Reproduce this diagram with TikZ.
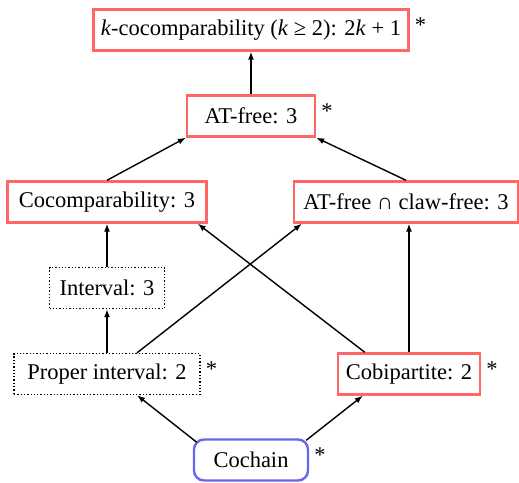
\documentclass[tikz,border=0pt]{standalone}
\usepackage{fontspec}
\setmainfont{Liberation Serif}
\usetikzlibrary{arrows.meta,calc}
\definecolor{boxred}{HTML}{FF6666}
\definecolor{boxblue}{HTML}{6666EE}
\tikzset{
  cls/.style={rectangle, minimum height=41pt, inner sep=2pt, font=\fontsize{22.5}{27}\selectfont},
  redbox/.style={cls, draw=boxred, line width=2.4pt},
  dotbox/.style={cls, draw=black, dotted, line width=1.3pt},
  bluebox/.style={cls, draw=boxblue, line width=2.4pt, rounded corners=10pt},
  starlbl/.style={anchor=north west, inner sep=0pt, font=\fontsize{22.5}{27}\selectfont},
  sub/.style={-{Latex[length=8pt,width=6pt]}, line width=1.4pt},
}
\begin{document}
\begin{tikzpicture}[x=1pt,y=-1pt]
\useasboundingbox (0,0) rectangle (519,482);
\node[redbox, minimum width=315pt] (top) at (251,30) {\textit{k}-cocomparability (\textit{k} ≥ 2): 2\textit{k} + 1};
\node[redbox, minimum width=128pt] (atfree) at (251,116) {AT-free: 3};
\node[redbox, minimum width=199pt] (cocomp) at (107,202) {Cocomparability: 3};
\node[redbox, minimum width=224pt] (atclaw) at (406,202) {AT-free ∩ claw-free: 3};
\node[dotbox, minimum width=115pt] (interval) at (107,288) {Interval: 3};
\node[dotbox, minimum width=186pt] (proper) at (107,374) {Proper interval: 2};
\node[redbox, minimum width=142pt] (cobip) at (409,374) {Cobipartite: 2};
\node[bluebox, minimum width=114pt] (cochain) at (251,460) {Cochain};
\node[starlbl] (topstar) at ($(top.north east)+(5,9)$) {*};
\node[starlbl] (atfreestar) at ($(atfree.north east)+(5,9)$) {*};
\node[starlbl] (properstar) at ($(proper.north east)+(5,9)$) {*};
\node[starlbl] (cobipstar) at ($(cobip.north east)+(5,9)$) {*};
\node[starlbl] (cochainstar) at ($(cochain.north east)+(5,9)$) {*};
\draw[sub] (atfree.north) -- (top.south);
\draw[sub] (cocomp.north) -- (atfree.south west);
\draw[sub] (atclaw.north) -- (atfree.south east);
\draw[sub] (interval.north) -- (cocomp.south);
\draw[sub] (proper.north) -- (interval.south);
\draw[sub] ($(proper.north)+(30,0)$) -- ($(atclaw.south west)+(9,0)$);
\draw[sub] ($(cobip.north west)+(28,0)$) -- ($(cocomp.south east)+(-10,0)$);
\draw[sub] (cobip.north) -- (cobip.north |- atclaw.south);
\draw[sub] ($(cochain.north west)+(4,4)$) -- ($(proper.south)+(30,0)$);
\draw[sub] ($(cochain.north east)+(-3,2)$) -- ($(cobip.south west)+(26,0)$);
\end{tikzpicture}
\end{document}
